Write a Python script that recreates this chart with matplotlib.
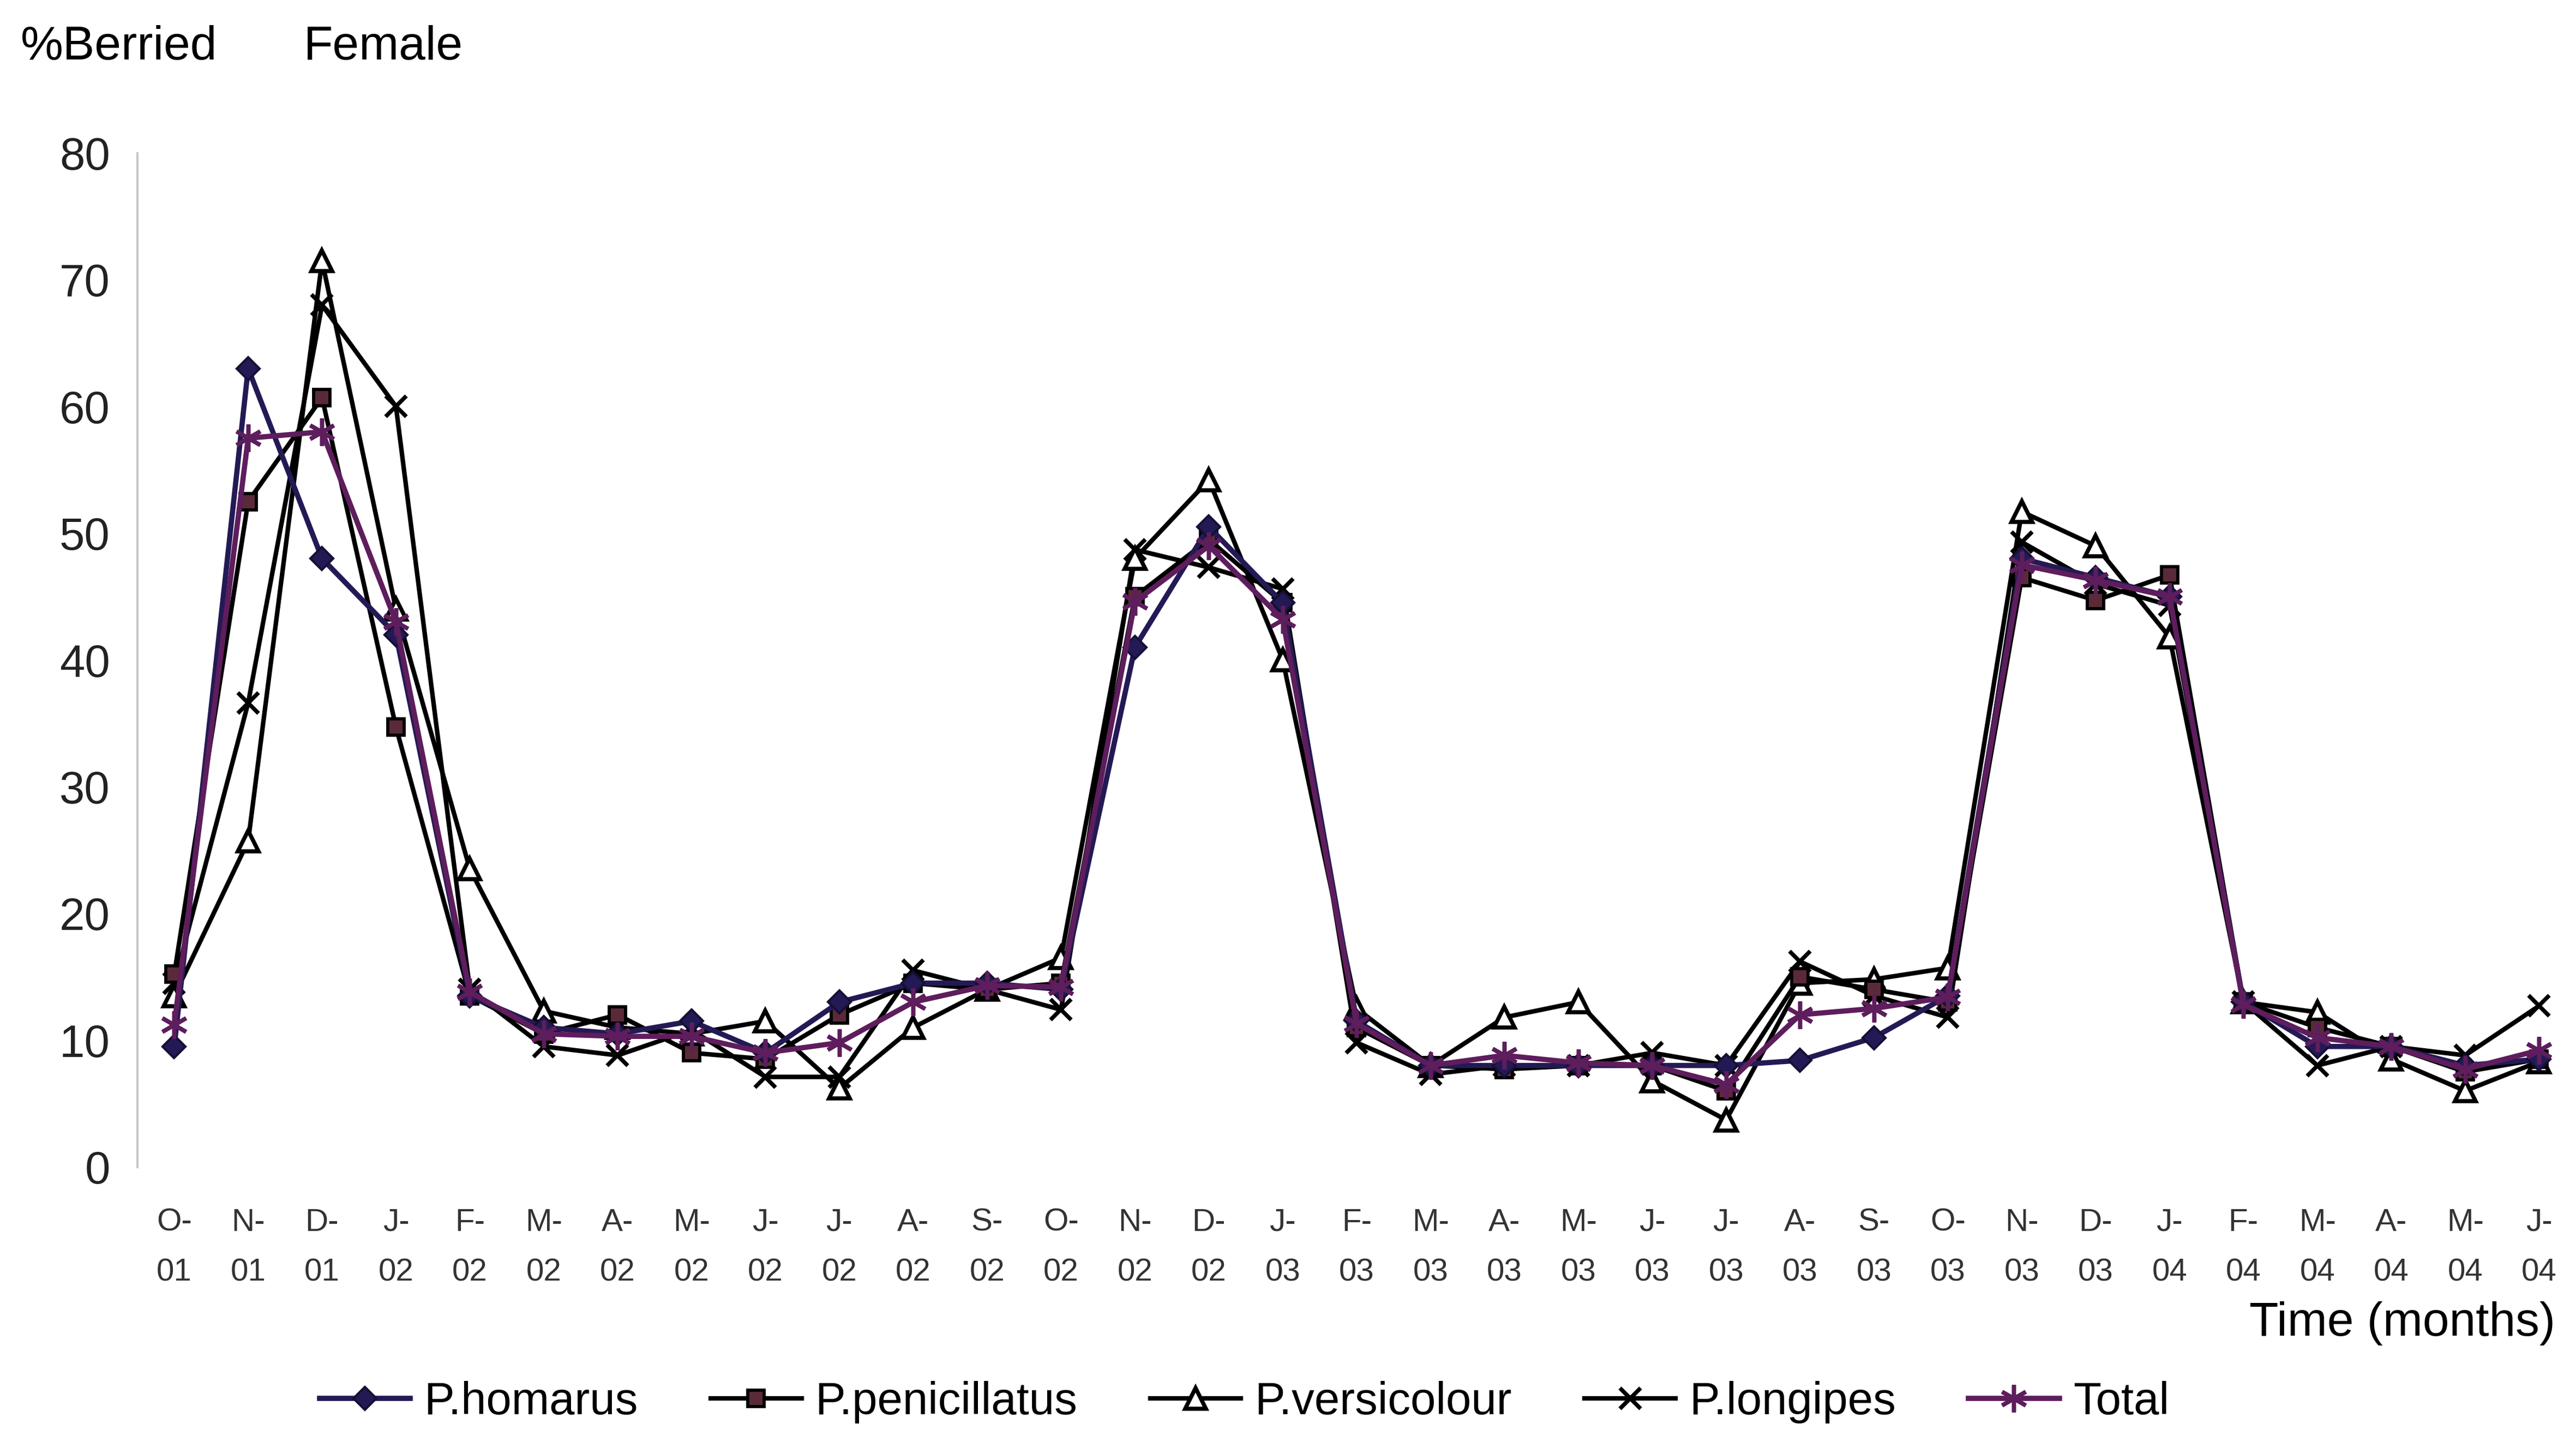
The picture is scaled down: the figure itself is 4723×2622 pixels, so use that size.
import numpy as np
import matplotlib
matplotlib.use("Agg")
import matplotlib.pyplot as plt

# month labels, two lines each (month initial / year)
months = ["O-", "N-", "D-", "J-", "F-", "M-", "A-", "M-", "J-", "J-", "A-", "S-",
          "O-", "N-", "D-", "J-", "F-", "M-", "A-", "M-", "J-", "J-", "A-", "S-",
          "O-", "N-", "D-", "J-", "F-", "M-", "A-", "M-", "J-"]
years = ["01", "01", "01", "02", "02", "02", "02", "02", "02", "02", "02", "02",
         "02", "02", "02", "03", "03", "03", "03", "03", "03", "03", "03", "03",
         "03", "03", "03", "04", "04", "04", "04", "04", "04"]

homarus = [9.5, 63, 48, 42, 13.5, 11, 10.5, 11.5, 9, 13, 14.5, 14.5,
           14, 41, 50.5, 44.5, 11.5, 8, 8, 8, 8, 8, 8.4, 10.2,
           13.5, 48, 46.5, 45, 13, 9.5, 9.5, 8, 8.5]
penicillatus = [15.2, 52.5, 60.7, 34.7, 13.5, 10.5, 12, 9, 8.5, 12, 14.5, 14,
                14.5, 45, 49.5, 44.5, 11, 8, 7.7, 8, 8, 6, 15, 14,
                13, 46.5, 44.7, 46.7, 13, 11, 9.5, 7.5, 8.5]
versicolour = [13.5, 25.7, 71.5, 44, 23.5, 12.3, 11, 10.5, 11.5, 6.2, 11, 14,
               16.5, 48, 54.2, 40, 12.5, 8, 11.8, 13, 6.8, 3.7, 14.5, 14.8,
               15.7, 51.7, 49, 41.8, 13, 12.2, 8.5, 6, 8.3]
longipes = [14.5, 36.6, 68, 60, 14, 9.5, 8.8, 10.8, 7.1, 7.1, 15.5, 14,
            12.4, 48.7, 47.3, 45.6, 9.8, 7.3, 8, 8, 9, 8, 16.2, 13.5,
            11.8, 49.3, 46, 44.3, 13, 8, 9.5, 8.8, 12.7]
total = [11.2, 57.5, 58, 43, 13.8, 10.5, 10.3, 10.3, 9, 9.8, 13, 14.3,
         14.2, 44.6, 49, 43.2, 11.3, 8, 8.8, 8.2, 8, 6.5, 12, 12.5,
         13.4, 47.5, 46.3, 45, 12.8, 10.2, 9.5, 7.7, 9.2]

plt.rcParams['font.family'] = ['Liberation Sans', 'DejaVu Sans']

fig = plt.figure(figsize=(4723 / 300, 2622 / 300), dpi=300)
ax = fig.add_axes([0.0533, 0.184, 0.9467, 0.709])

x = np.arange(len(months))

ax.plot(x, longipes, color="black", lw=2.0, marker="x", ms=9, mew=1.8,
        label="P.longipes", zorder=3)
ax.plot(x, versicolour, color="black", lw=2.0, marker="^", ms=9, mfc="white",
        mec="black", mew=1.8, label="P.versicolour", zorder=3)
ax.plot(x, penicillatus, color="black", lw=2.0, marker="s", ms=7, mfc="#5a2a38",
        mec="black", mew=1.4, label="P.penicillatus", zorder=4)
ax.plot(x, homarus, color="#231a55", lw=2.3, marker="D", ms=7, mfc="#231a55",
        mec="#151035", label="P.homarus", zorder=5)
ax.plot(x, total, color="#5e1d5c", lw=2.3, marker=(6, 2, 0), ms=12, mew=1.8,
        mec="#5e1d5c", label="Total", zorder=6)

ax.set_xlim(-0.5, len(months) - 0.5)
ax.set_ylim(0, 80)
ax.set_yticks(range(0, 81, 10))
ax.tick_params(axis="y", labelsize=20, length=0, pad=12, colors="#222222")
ax.set_xticks(x)
ax.set_xticklabels([m + "\n" + y for m, y in zip(months, years)],
                   fontsize=14, linespacing=1.9, color="#333333",
                   family=['Liberation Sans Narrow', 'Liberation Sans'])
ax.tick_params(axis="x", length=0, pad=18)

for s in ["top", "right", "bottom"]:
    ax.spines[s].set_visible(False)
ax.spines["left"].set_color("#c8c8c8")
ax.spines["left"].set_linewidth(1.0)

fig.text(0.008, 0.967, "%Berried", fontsize=21, ha="left", va="center")
fig.text(0.118, 0.967, "Female", fontsize=21, ha="left", va="center")
fig.text(0.992, 1 - 805 / 870, "Time (months)", fontsize=21, ha="right", va="center")

order = ["P.homarus", "P.penicillatus", "P.versicolour", "P.longipes", "Total"]
h, l = ax.get_legend_handles_labels()
hm = dict(zip(l, h))
fig.legend([hm[k] for k in order], order, loc="center", ncol=5,
           bbox_to_anchor=(0.483, 1 - 853 / 870), frameon=False, fontsize=20,
           handlelength=2.0, columnspacing=1.6, handletextpad=0.3)

fig.savefig("out.png", dpi=300, facecolor="white")
